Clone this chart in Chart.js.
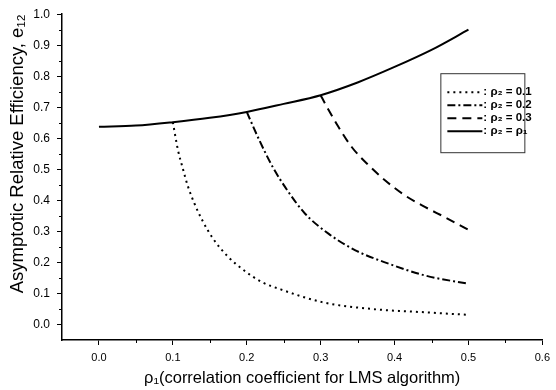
<!DOCTYPE html>
<html>
<head>
<meta charset="utf-8">
<script src="https://cdn.jsdelivr.net/npm/chart.js@4.4.1/dist/chart.umd.min.js"></script>
<style>
  html,body{margin:0;padding:0;background:#fff;}
  #wrap{width:556px;height:390px;}
</style>
</head>
<body>
<div id="wrap"><canvas id="c" width="556" height="390"></canvas></div>
<script>
// ---- data ----
const seriesLabels = [': \u03C1\u2082 = 0.1', ': \u03C1\u2082 = 0.2', ': \u03C1\u2082 = 0.3', ': \u03C1\u2082 = \u03C1\u2081'];

const x01 = [0.100, 0.107, 0.113, 0.120, 0.129, 0.140, 0.154, 0.174, 0.197, 0.221, 0.246, 0.302, 0.369, 0.436, 0.500];
const y01 = [0.652, 0.561, 0.507, 0.448, 0.391, 0.335, 0.278, 0.220, 0.173, 0.136, 0.113, 0.072, 0.050, 0.040, 0.031];

const x02 = [0.200, 0.217, 0.235, 0.255, 0.279, 0.311, 0.347, 0.392, 0.441, 0.500];
const y02 = [0.685, 0.594, 0.508, 0.432, 0.357, 0.292, 0.239, 0.196, 0.158, 0.131];

const x03 = [0.300, 0.306, 0.324, 0.342, 0.365, 0.387, 0.414, 0.441, 0.468, 0.500];
const y03 = [0.739, 0.712, 0.637, 0.572, 0.513, 0.465, 0.416, 0.379, 0.346, 0.305];

const xEq = [0.00, 0.05, 0.10, 0.15, 0.20, 0.25, 0.30, 0.35, 0.40, 0.45, 0.50];
const yEq = [0.637, 0.641, 0.652, 0.666, 0.685, 0.711, 0.739, 0.780, 0.830, 0.885, 0.950];

const xTicks = [0.0, 0.1, 0.2, 0.3, 0.4, 0.5, 0.6];
const yTicks = [0.0, 0.1, 0.2, 0.3, 0.4, 0.5, 0.6, 0.7, 0.8, 0.9, 1.0];
const xMinorTicks = [0.05, 0.15, 0.25, 0.35, 0.45, 0.55];
const yMinorTicks = [0.05, 0.15, 0.25, 0.35, 0.45, 0.55, 0.65, 0.75, 0.85, 0.95];

const xTitle = '\u03C1\u2081(correlation coefficient for LMS algorithm)';
const yTitle = 'Asymptotic Relative Efficiency, e\u2081\u2082';

// ---- build ----
const pts = (xs, ys) => xs.map((x, i) => ({x: x, y: ys[i]}));
const dashes = [[2, 4], [8, 3, 2, 3], [9, 6], []];
const widths = [2, 2, 2, 2];
const seriesXs = [x01, x02, x03, xEq];
const seriesYs = [y01, y02, y03, yEq];

const datasets = seriesLabels.map((lab, i) => ({
  label: lab,
  data: pts(seriesXs[i], seriesYs[i]),
  borderColor: '#000',
  backgroundColor: '#000',
  borderWidth: widths[i],
  borderDash: dashes[i],
  pointRadius: 0,
  showLine: true,
  fill: false,
  cubicInterpolationMode: 'monotone'
}));

const FONT = "'Liberation Sans', Arial, Helvetica, sans-serif";

const minorTickPlugin = {
  id: 'minorTicks',
  afterDraw(chart) {
    const ctx = chart.ctx;
    const xs = chart.scales.x, ys = chart.scales.y;
    ctx.save();
    ctx.strokeStyle = '#000';
    ctx.lineWidth = 1;
    ctx.beginPath();
    xMinorTicks.forEach(v => {
      const px = Math.round(xs.getPixelForValue(v)) + 0.5;
      ctx.moveTo(px, xs.top);
      ctx.lineTo(px, xs.top + 3);
    });
    yMinorTicks.forEach(v => {
      const py = Math.round(ys.getPixelForValue(v)) + 0.5;
      ctx.moveTo(ys.right, py);
      ctx.lineTo(ys.right - 3, py);
    });
    ctx.stroke();
    ctx.restore();
  }
};

const boxLegendPlugin = {
  id: 'boxLegend',
  afterDraw(chart) {
    const ctx = chart.ctx;
    const ca = chart.chartArea;
    const bx = ca.right - 102, by = ca.top + 59, bw = 84, bh = 79;
    ctx.save();
    ctx.fillStyle = '#fff';
    ctx.fillRect(bx, by, bw, bh);
    ctx.strokeStyle = '#333';
    ctx.lineWidth = 1;
    ctx.setLineDash([]);
    ctx.strokeRect(bx + 0.5, by + 0.5, bw, bh);
    chart.data.datasets.forEach((ds, i) => {
      const yy = by + 19 + i * 13;
      ctx.beginPath();
      ctx.setLineDash(ds.borderDash || []);
      ctx.lineWidth = ds.borderWidth;
      ctx.strokeStyle = '#000';
      ctx.moveTo(bx + 7, yy);
      ctx.lineTo(bx + 42, yy);
      ctx.stroke();
      ctx.setLineDash([]);
      ctx.fillStyle = '#000';
      ctx.font = 'bold 11.5px ' + FONT;
      ctx.textBaseline = 'middle';
      ctx.textAlign = 'left';
      ctx.fillText(ds.label, bx + 43, yy);
    });
    ctx.restore();
  }
};

new Chart(document.getElementById('c'), {
  type: 'scatter',
  data: {datasets: datasets},
  plugins: [minorTickPlugin, boxLegendPlugin],
  options: {
    responsive: false,
    animation: false,
    layout: {padding: {top: 14, right: 11, left: 0, bottom: 0}},
    plugins: {legend: {display: false}, tooltip: {enabled: false}},
    scales: {
      x: {
        type: 'linear',
        min: -0.05, max: 0.6,
        afterBuildTicks: s => { s.ticks = xTicks.map(v => ({value: v})); },
        afterFit: s => { s.height = 50; },
        ticks: {
          color: '#000', padding: 6,
          font: {family: FONT, size: 11},
          callback: v => Number(v).toFixed(1)
        },
        grid: {drawOnChartArea: false, drawTicks: true, tickLength: 5, color: '#000', tickColor: '#000'},
        border: {display: true, color: '#000', width: 1.5},
        title: {display: true, text: xTitle, color: '#000', font: {family: FONT, size: 16.5}, padding: {top: 0, bottom: 2}}
      },
      y: {
        type: 'linear',
        min: -0.05, max: 1.0,
        afterBuildTicks: s => { s.ticks = yTicks.map(v => ({value: v})); },
        afterFit: s => { s.width = 62; },
        ticks: {
          color: '#000', padding: 7,
          font: {family: FONT, size: 12},
          callback: v => Number(v).toFixed(1)
        },
        grid: {drawOnChartArea: false, drawTicks: true, tickLength: 5, color: '#000', tickColor: '#000'},
        border: {display: true, color: '#000', width: 1.5},
        title: {display: true, text: yTitle, align: 'end', color: '#000', font: {family: FONT, size: 18.5}, padding: {top: 6.5, bottom: 0}}
      }
    }
  }
});
</script>
</body>
</html>
